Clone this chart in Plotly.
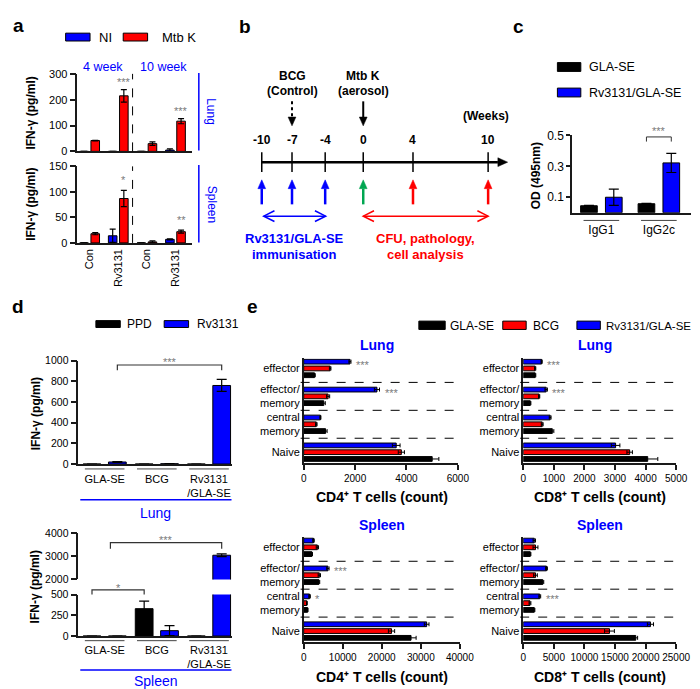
import math
import plotly.graph_objects as go

W, H = 700, 689
def fx(p): return p / W
def fy(p): return 1 - p / H

FONT = "Arial, Liberation Sans, sans-serif"
BLUE = "#0000FF"; RED = "#FF0000"; BLACK = "#000000"; GREY = "#7a7a7a"; GREEN = "#00A651"
AX = "#1a1a1a"

# ---------------- data ----------------
# panel a : IFN-g (pg/ml)
a_groups = ["Con", "Rv3131", "Con", "Rv3131"]
a_lung_ni = [0, 0, 0, 5]
a_lung_ni_err = [0, 0, 0, 5]
a_lung_mtb = [42, 215, 30, 117]
a_lung_mtb_err = [1, 24, 7, 10]
a_lung_stars = ["", "***", "", "***"]
a_spleen_ni = [0, 14, 0, 7]
a_spleen_ni_err = [0, 13, 0, 1]
a_spleen_mtb = [18, 87, 2, 22]
a_spleen_mtb_err = [2, 16, 2, 3]
a_spleen_stars = ["", "*", "", "**"]

# panel b : timeline (weeks)
b_weeks = ["-10", "-7", "-4", "0", "4", "10"]

# panel c : OD (495nm)
c_classes = ["IgG1", "IgG2c"]
c_gla = [0.045, 0.058]
c_gla_err = [0.002, 0.002]
c_rv = [0.10, 0.322]
c_rv_err = [0.053, 0.062]

# panel d : IFN-g (pg/ml)
d_groups = ["GLA-SE", "BCG", "Rv3131<br>/GLA-SE"]
d_lung_ppd = [0, 0, 0]
d_lung_ppd_err = [0, 0, 0]
d_lung_rv = [20, 3, 760]
d_lung_rv_err = [4, 1, 58]
d_spleen_ppd = [0, 330, 0]
d_spleen_ppd_err = [0, 90, 0]
d_spleen_rv = [0, 65, 3050]
d_spleen_rv_err = [0, 60, 60]

# panel e : T cell counts
e_cats = ["effector", "effector/<br>memory", "central<br>memory", "Naive"]
e_lung_cd4_gla = [420, 780, 850, 5000]
e_lung_cd4_gla_err = [30, 60, 60, 260]
e_lung_cd4_bcg = [1030, 950, 490, 3800]
e_lung_cd4_bcg_err = [30, 60, 30, 120]
e_lung_cd4_rv = [1800, 2850, 650, 3600]
e_lung_cd4_rv_err = [40, 100, 20, 150]
e_lung_cd4_stars = ["***", "***", "", ""]

e_lung_cd8_gla = [390, 230, 950, 4070]
e_lung_cd8_gla_err = [20, 20, 50, 330]
e_lung_cd8_bcg = [390, 520, 620, 3480]
e_lung_cd8_bcg_err = [20, 20, 30, 90]
e_lung_cd8_rv = [600, 750, 880, 3020]
e_lung_cd8_rv_err = [20, 40, 30, 140]
e_lung_cd8_stars = ["***", "***", "", ""]

e_spl_cd4_gla = [2100, 3900, 1000, 27500]
e_spl_cd4_gla_err = [150, 200, 100, 1300]
e_spl_cd4_bcg = [3500, 4000, 800, 22500]
e_spl_cd4_bcg_err = [300, 300, 100, 800]
e_spl_cd4_rv = [2500, 6200, 1500, 31500]
e_spl_cd4_rv_err = [200, 300, 200, 600]
e_spl_cd4_stars = ["", "***", "*", ""]

e_spl_cd8_gla = [1150, 3200, 1800, 18400]
e_spl_cd8_gla_err = [100, 150, 100, 300]
e_spl_cd8_bcg = [2000, 2000, 1100, 14100]
e_spl_cd8_bcg_err = [400, 300, 150, 800]
e_spl_cd8_rv = [1800, 3800, 2700, 20800]
e_spl_cd8_rv_err = [200, 150, 150, 500]
e_spl_cd8_stars = ["", "", "***", ""]

# ---------------- helpers ----------------
fig = go.Figure()
axes = {}
shapes = []
annots = []

def refs(i):
    s = "" if i == 1 else str(i)
    return "xaxis" + s, "yaxis" + s, "x" + s, "y" + s

def add_x(i, l, r, rng, **kw):
    xn, yn, xr, yr = refs(i)
    d = dict(domain=[fx(l), fx(r)], range=rng, anchor=yr, showgrid=False, zeroline=False,
             showline=True, linecolor=AX, linewidth=1.5, ticks="", fixedrange=True,
             tickfont=dict(family=FONT, size=11, color=BLACK), tickcolor=AX, tickwidth=1.5)
    d.update(kw)
    axes[xn] = d

def add_y(i, b, t, rng, **kw):
    xn, yn, xr, yr = refs(i)
    d = dict(domain=[fy(b), fy(t)], range=rng, anchor=xr, showgrid=False, zeroline=False,
             showline=True, linecolor=AX, linewidth=1.5, ticks="outside", ticklen=6,
             tickcolor=AX, tickwidth=1.5, fixedrange=True,
             tickfont=dict(family=FONT, size=11, color=BLACK))
    d.update(kw)
    axes[yn] = d

def vbar(i, x, y, err, color, offset, width, cap=3):
    _, _, xr, yr = refs(i)
    fig.add_trace(go.Bar(x=x, y=y, offset=offset, width=width, xaxis=xr, yaxis=yr,
                         marker=dict(color=color, line=dict(color=BLACK, width=1)),
                         error_y=dict(type="data", array=err, visible=True, color=BLACK,
                                      thickness=1.2, width=cap),
                         showlegend=False, hoverinfo="skip"))

def hbar(i, y, x, err, color, offset, width):
    _, _, xr, yr = refs(i)
    fig.add_trace(go.Bar(x=x, y=y, orientation="h", offset=offset, width=width,
                         xaxis=xr, yaxis=yr,
                         marker=dict(color=color, line=dict(color=BLACK, width=1)),
                         error_x=dict(type="data", array=err, visible=True, color=BLACK,
                                      thickness=1, width=2),
                         showlegend=False, hoverinfo="skip"))

def ptext(px, py, s, size=12, color=BLACK, bold=False, angle=0, xanchor="center",
          yanchor="middle"):
    if bold:
        s = "<b>" + s + "</b>"
    annots.append(dict(x=fx(px), y=fy(py), xref="paper", yref="paper", text=s, showarrow=False,
                       font=dict(family=FONT, size=size, color=color), textangle=angle,
                       xanchor=xanchor, yanchor=yanchor))

def dtext(xr, yr, x, y, s, size=11, color=GREY, xanchor="center", yanchor="middle",
          xshift=0, yshift=0):
    annots.append(dict(x=x, y=y, xref=xr, yref=yr, text=s, showarrow=False,
                       font=dict(family=FONT, size=size, color=color),
                       xanchor=xanchor, yanchor=yanchor, xshift=xshift, yshift=yshift))

def prect(x0, y0, x1, y1, color):
    shapes.append(dict(type="rect", xref="paper", yref="paper", x0=fx(x0), x1=fx(x1),
                       y0=fy(y0), y1=fy(y1), fillcolor=color, line=dict(color=BLACK, width=1)))

def pline(x0, y0, x1, y1, color=BLACK, width=1.5, dash="solid"):
    shapes.append(dict(type="line", xref="paper", yref="paper", x0=fx(x0), x1=fx(x1),
                       y0=fy(y0), y1=fy(y1), line=dict(color=color, width=width, dash=dash)))

def ppath(pts, color, width=1, fill=None, close=False):
    s = "M " + " L ".join("%f,%f" % (fx(a), fy(b)) for a, b in pts)
    if close:
        s += " Z"
    d = dict(type="path", xref="paper", yref="paper", path=s,
             line=dict(color=color, width=width))
    if fill:
        d["fillcolor"] = fill
    shapes.append(d)

def head(tx, ty, fx_, fy_, color, hl, hw, open_=False, width=1.5):
    L = math.hypot(tx - fx_, ty - fy_)
    ux, uy = (tx - fx_) / L, (ty - fy_) / L
    px, py = -uy, ux
    bx, by = tx - ux * hl, ty - uy * hl
    p1 = (bx + px * hw / 2, by + py * hw / 2)
    p2 = (bx - px * hw / 2, by - py * hw / 2)
    if open_:
        ppath([p1, (tx, ty), p2], color, width)
    else:
        ppath([p1, (tx, ty), p2], color, 0.5, fill=color, close=True)
    return bx, by

def arrow(x0, y0, x1, y1, color, width=2.5, hl=9, hw=9, dash="solid"):
    bx, by = head(x1, y1, x0, y0, color, hl, hw)
    pline(x0, y0, bx, by, color, width, dash)

def darrow(x0, y0, x1, y1, color, width=1.5, hl=11, hw=11):
    pline(x0, y0, x1, y1, color, width)
    head(x1, y1, x0, y0, color, hl, hw, open_=True, width=width)
    head(x0, y0, x1, y1, color, hl, hw, open_=True, width=width)

# ---------------- panel a ----------------
a_x = list(range(len(a_groups)))
add_x(1, 68, 185, [-0.43, 3.56], showticklabels=False)
add_y(1, 139, 60, [0, 300], tickvals=[0, 100, 200, 300])
add_x(2, 68, 185, [-0.43, 3.56], tickvals=a_x, ticktext=a_groups, tickangle=-90)
add_y(2, 232.3, 154.3, [0, 150], tickvals=[0, 50, 100, 150])
vbar(1, a_x, a_lung_ni, a_lung_ni_err, BLUE, -0.345, 0.3)
vbar(1, a_x, a_lung_mtb, a_lung_mtb_err, RED, 0.045, 0.3)
vbar(2, a_x, a_spleen_ni, a_spleen_ni_err, BLUE, -0.345, 0.3)
vbar(2, a_x, a_spleen_mtb, a_spleen_mtb_err, RED, 0.045, 0.3)
for i in (1, 2):
    _, _, xr, yr = refs(i)
    shapes.append(dict(type="line", xref=xr, yref=yr + " domain", x0=1.5, x1=1.5, y0=0, y1=1,
                       line=dict(color=BLACK, width=1, dash="dash")))
for k, s in enumerate(a_lung_stars):
    if s:
        dtext("x", "y", k + 0.195, a_lung_mtb[k] + a_lung_mtb_err[k], s, yanchor="bottom")
for k, s in enumerate(a_spleen_stars):
    if s:
        dtext("x2", "y2", k + 0.195, a_spleen_mtb[k] + a_spleen_mtb_err[k], s, yanchor="bottom",
              yshift=2)
pline(192.5, 59, 192.5, 138, BLUE, 1.5)
pline(192.5, 153, 192.5, 232, BLUE, 1.5)
ptext(205.5, 98.5, "Lung", 12, BLUE, angle=90)
ptext(205.5, 193, "Spleen", 12, BLUE, angle=90)
ptext(8, 11, "a", 19, bold=True)
prect(56, 18.5, 81, 26.5, BLUE); ptext(88, 23, "NI", 13, xanchor="left")
prect(115, 18.5, 140, 26.5, RED); ptext(153, 23, "Mtb K", 13, xanchor="left")
ptext(94, 53, "4 week", 12.5, BLUE)
ptext(156.5, 53, "10 week", 12.5, BLUE)
ptext(21, 100, "IFN-γ (pg/ml)", 12, bold=True, angle=-90)
ptext(21, 193, "IFN-γ (pg/ml)", 12, bold=True, angle=-90)

# ---------------- panel b ----------------
b_pos = [257, 288, 322, 361, 412, 489]
b_cols = [BLUE, BLUE, BLUE, GREEN, RED, RED]
ptext(240, 12, "b", 19, bold=True)
arrow(257, 150, 509, 150, BLACK, width=2.5, hl=10, hw=9)
for p, w, c in zip(b_pos, b_weeks, b_cols):
    pline(p, 140, p, 160, BLACK, 1.5)
    ptext(p, 127, w, 12, bold=True)
    arrow(p, 193, p, 168, c, width=2.5, hl=9, hw=8)
ptext(288, 62, "BCG", 12, bold=True)
ptext(288, 77, "(Control)", 12, bold=True)
ptext(361, 62, "Mtb K", 12, bold=True)
ptext(361, 77, "(aerosol)", 12, bold=True)
ptext(487, 103, "(Weeks)", 12, bold=True)
arrow(288, 88, 288, 113, BLACK, width=2, hl=9, hw=8, dash="dot")
arrow(361, 88, 361, 113, BLACK, width=2, hl=9, hw=8)
darrow(259, 205, 322.5, 205, BLUE)
darrow(361, 205, 489, 205, RED)
ptext(290.5, 228, "Rv3131/GLA-SE", 13, BLUE, bold=True)
ptext(290.5, 244, "immunisation", 13, BLUE, bold=True)
ptext(424.7, 228, "CFU, pathology,", 13, RED, bold=True)
ptext(424.7, 244, "cell analysis", 13, RED, bold=True)

# ---------------- panel c ----------------
c_x = list(range(len(c_classes)))
add_x(3, 575, 697, [-0.51, 1.56], tickvals=c_x, ticktext=c_classes,
      tickfont=dict(family=FONT, size=12, color=BLACK), ticklabelstandoff=5)
add_y(3, 201.5, 122.7, [0, 0.5], tickvals=[0.1, 0.3, 0.5], ticklen=4,
      tickfont=dict(family=FONT, size=12, color=BLACK))
vbar(3, c_x, c_gla, c_gla_err, BLACK, -0.361, 0.29, cap=5)
vbar(3, c_x, c_rv, c_rv_err, BLUE, 0.071, 0.29, cap=5)
for k in c_x:
    shapes.append(dict(type="line", xref="x3", yref="y3 domain", x0=k - 0.31, x1=k + 0.31,
                       y0=-0.1, y1=-0.1, line=dict(color="#444", width=1)))
shapes.append(dict(type="path", xref="x3", yref="y3",
                   path="M %f,0.46 V 0.49 H %f V 0.46" % (1 - 0.216, 1 + 0.216),
                   line=dict(color="#333", width=1)))
dtext("x3", "paper", 1, fy(115), "***", yshift=-3)
ptext(520, 12, "c", 19, bold=True)
prect(560, 48.5, 584, 57.5, BLACK); ptext(590, 53, "GLA-SE", 12.5, xanchor="left")
prect(560, 74.5, 584, 83.5, BLUE); ptext(590, 79, "Rv3131/GLA-SE", 12.5, xanchor="left")
ptext(538, 163.5, "OD (495nm)", 12, bold=True, angle=-90)

# ---------------- panel d ----------------
d_x = list(range(len(d_groups)))
add_x(4, 69, 227, [-0.505, 2.45], tickvals=d_x, ticktext=d_groups, ticklabelstandoff=4)
add_y(4, 457.7, 352.3, [0, 1000], dtick=200, tickfont=dict(family=FONT, size=10.5, color=BLACK))
add_x(5, 69, 227, [-0.505, 2.45], visible=False)
add_y(5, 575.3, 528.3, [2000, 4000], tickvals=[2000, 3000, 4000],
      tickfont=dict(family=FONT, size=10.5, color=BLACK))
add_x(6, 69, 227, [-0.505, 2.45], tickvals=d_x, ticktext=d_groups, ticklabelstandoff=3)
add_y(6, 633, 590.7, [0, 500], tickvals=[0, 250, 500],
      tickfont=dict(family=FONT, size=10.5, color=BLACK))
vbar(4, d_x, d_lung_ppd, d_lung_ppd_err, BLACK, -0.413, 0.34, cap=5)
vbar(4, d_x, d_lung_rv, d_lung_rv_err, BLUE, 0.073, 0.34, cap=5)
for i in (5, 6):
    vbar(i, d_x, d_spleen_ppd, d_spleen_ppd_err, BLACK, -0.413, 0.34, cap=5)
    vbar(i, d_x, d_spleen_rv, d_spleen_rv_err, BLUE, 0.073, 0.34, cap=5)
for k in d_x:
    shapes.append(dict(type="line", xref="x4", yref="y4 domain", x0=k - 0.38, x1=k + 0.38,
                       y0=-0.047, y1=-0.047, line=dict(color="#444", width=1)))
    shapes.append(dict(type="line", xref="x6", yref="y6 domain", x0=k - 0.38, x1=k + 0.38,
                       y0=-0.111, y1=-0.111, line=dict(color="#444", width=1)))
shapes.append(dict(type="path", xref="x4", yref="y4",
                   path="M 0.243,908 V 958 H 2.243 V 908", line=dict(color="#333", width=1.2)))
dtext("x4", "paper", 1.243, fy(350.7), "***", yshift=-3)
shapes.append(dict(type="path", xref="x5", yref="y5",
                   path="M 0.11,3332 V 3600 H 2.243 V 3332", line=dict(color="#333", width=1.2)))
dtext("x5", "y5", 1.18, 3855, "***", yshift=-3)
shapes.append(dict(type="path", xref="x6", yref="y6 domain",
                   path="M -0.243,1.0 V 1.111 H 0.757 V 1.0", line=dict(color="#333", width=1.2)))
dtext("x6", "paper", 0.257, fy(581), "*", yshift=-3)
pline(71, 494, 226, 494, BLUE, 1.5)
pline(71, 667.7, 226, 667.7, BLUE, 1.5)
ptext(148.5, 508, "Lung", 14, BLUE)
ptext(149, 679, "Spleen", 14, BLUE)
ptext(7, 297, "d", 19, bold=True)
prect(87, 311.5, 112, 318.5, BLACK); ptext(117, 315, "PPD", 12, xanchor="left")
prect(157, 311.5, 182, 318.5, BLUE); ptext(189, 315, "Rv3131", 12, xanchor="left")
ptext(25, 406.5, "IFN-γ (pg/ml)", 12, bold=True, angle=-90)
ptext(25, 583, "IFN-γ (pg/ml)", 12, bold=True, angle=-90)

# ---------------- panel e ----------------
e_y = list(range(len(e_cats)))
e_panels = [
    (7, 300, 458, 456.7, 350, [0, 6000], 2000, e_lung_cd4_gla, e_lung_cd4_gla_err,
     e_lung_cd4_bcg, e_lung_cd4_bcg_err, e_lung_cd4_rv, e_lung_cd4_rv_err, e_lung_cd4_stars),
    (8, 525, 681.7, 456.7, 350, [0, 5000], 1000, e_lung_cd8_gla, e_lung_cd8_gla_err,
     e_lung_cd8_bcg, e_lung_cd8_bcg_err, e_lung_cd8_rv, e_lung_cd8_rv_err, e_lung_cd8_stars),
    (9, 300, 460, 639, 532.3, [0, 40000], 10000, e_spl_cd4_gla, e_spl_cd4_gla_err,
     e_spl_cd4_bcg, e_spl_cd4_bcg_err, e_spl_cd4_rv, e_spl_cd4_rv_err, e_spl_cd4_stars),
    (10, 525, 681.7, 639, 532.3, [0, 25000], 5000, e_spl_cd8_gla, e_spl_cd8_gla_err,
     e_spl_cd8_bcg, e_spl_cd8_bcg_err, e_spl_cd8_rv, e_spl_cd8_rv_err, e_spl_cd8_stars),
]
for (i, l, r, b, t, rng, dt, gla, glae, bcg, bcge, rv, rve, stars) in e_panels:
    add_x(i, l, r, rng, dtick=dt, ticks="outside", ticklen=5, tickangle=0, tickformat="d",
          tickfont=dict(family=FONT, size=10, color=BLACK))
    add_y(i, b, t, [3.39, -0.36], tickvals=e_y, ticktext=e_cats, ticks="",
          tickfont=dict(family=FONT, size=11, color=BLACK))
    hbar(i, e_y, gla, glae, BLACK, 0.158, 0.17)
    hbar(i, e_y, bcg, bcge, RED, -0.085, 0.17)
    hbar(i, e_y, rv, rve, BLUE, -0.328, 0.17)
    _, _, xr, yr = refs(i)
    for sep in (0.5, 1.5, 2.5):
        shapes.append(dict(type="line", xref=xr + " domain", yref=yr, x0=-0.02, x1=1.0,
                           y0=sep, y1=sep, line=dict(color=BLACK, width=1, dash="dash")))
    for k, s in enumerate(stars):
        if s:
            dtext(xr, yr, rv[k] + rve[k], k - 0.243, s, xanchor="left", xshift=3, yshift=-3)

ptext(375, 336.7, "Lung", 14, BLUE, bold=True)
ptext(599, 336.7, "Lung", 14, BLUE, bold=True)
ptext(380, 519.3, "Spleen", 14, BLUE, bold=True)
ptext(604, 519.3, "Spleen", 14, BLUE, bold=True)
ptext(380, 491.7, "CD4⁺ T cells (count)", 14, bold=True)
ptext(603.3, 491.7, "CD8⁺ T cells (count)", 14, bold=True)
ptext(380, 675, "CD4⁺ T cells (count)", 14, bold=True)
ptext(603.3, 675, "CD8⁺ T cells (count)", 14, bold=True)
ptext(248, 297, "e", 19, bold=True)
prect(418, 312, 445, 320.5, BLACK); ptext(448, 316.5, "GLA-SE", 12, xanchor="left")
prect(504, 312, 528, 320.5, RED); ptext(533, 316.5, "BCG", 12, xanchor="left")
prect(580, 312, 604, 320.5, BLUE); ptext(608, 316.5, "Rv3131/GLA-SE", 11.5, xanchor="left")

fig.update_layout(width=W, height=H, margin=dict(l=0, r=0, t=0, b=0, pad=0),
                  paper_bgcolor="white", plot_bgcolor="white", showlegend=False,
                  font=dict(family=FONT, size=11, color=BLACK),
                  shapes=shapes, annotations=annots, **axes)
fig.write_html("out.html")
